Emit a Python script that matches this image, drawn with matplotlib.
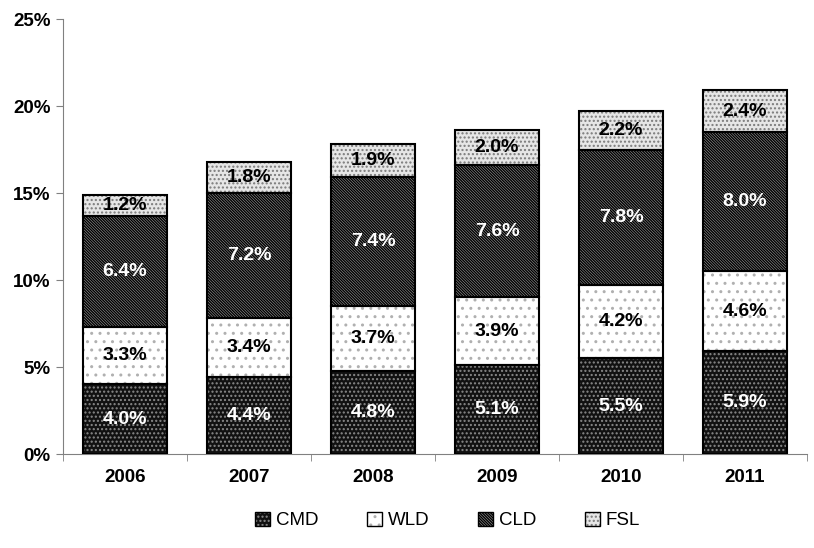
import numpy as np
import matplotlib
matplotlib.use("Agg")
import matplotlib.pyplot as plt
from matplotlib.patches import Patch
from matplotlib.ticker import FixedLocator

plt.rcParams['font.family'] = ['Liberation Sans', 'DejaVu Sans']
plt.rcParams['hatch.linewidth'] = 1.0

years = ['2006', '2007', '2008', '2009', '2010', '2011']
cmd = [4.0, 4.4, 4.8, 5.1, 5.5, 5.9]
wld = [3.3, 3.4, 3.7, 3.9, 4.2, 4.6]
cld = [6.4, 7.2, 7.4, 7.6, 7.8, 8.0]
fsl = [1.2, 1.8, 1.9, 2.0, 2.2, 2.4]

# name, values, face, hatch colour, hatch, label colour
series = [
    ('CMD', cmd, '#111111', '#8a8a8a', '....', 'white'),
    ('WLD', wld, '#ffffff', '#b0b0b0', '..', 'black'),
    ('CLD', cld, '#a0a0a0', '#000000', '\\' * 12, 'white'),
    ('FSL', fsl, '#e6e6e6', '#7a7a7a', '....', 'black'),
]

fig = plt.figure(figsize=(8.14, 5.48), dpi=100)
ax = fig.add_axes([0.0774, 0.1715, 0.914, 0.7935])

x = np.arange(len(years))
width = 0.67
bottom = np.zeros(len(years))
handles, labels = [], []
for name, vals, face, hcol, hatch, tcol in series:
    vals = np.array(vals)
    ax.bar(x, vals, width, bottom=bottom, color=face, edgecolor=hcol,
           hatch=hatch, linewidth=0, zorder=2)
    ax.bar(x, vals, width, bottom=bottom, fill=False, edgecolor='black',
           linewidth=1.5, zorder=3)
    for xi, b, v in zip(x, bottom, vals):
        ax.text(xi, b + v / 2, f'{v:.1f}%', ha='center', va='center',
                color=tcol, fontsize=14, fontweight='bold', zorder=4)
    bottom += vals
    handles.append((Patch(facecolor=face, edgecolor=hcol, hatch=hatch, linewidth=0),
                    Patch(fill=False, edgecolor='black', linewidth=1.0)))
    labels.append(name)

ax.set_xlim(-0.5, len(years) - 0.5)
ax.set_ylim(0, 25)
ax.set_yticks(np.arange(0, 26, 5))
ax.set_yticklabels([f'{v}%' for v in range(0, 26, 5)], fontsize=13.5, fontweight='bold')
ax.set_xticks(x)
ax.set_xticklabels(years, fontsize=13.5, fontweight='bold')
ax.tick_params(axis='x', length=0, pad=11)
ax.xaxis.set_minor_locator(FixedLocator(np.arange(-0.5, len(years), 1.0)))
ax.tick_params(axis='x', which='minor', length=5, color='#808080')
ax.tick_params(axis='y', length=5, color='#808080', pad=4)

for s in ['top', 'right']:
    ax.spines[s].set_visible(False)
for s in ['left', 'bottom']:
    ax.spines[s].set_color('#808080')

fig.legend(handles, labels, loc='center', bbox_to_anchor=(0.55, 0.05),
           ncol=4, frameon=False, fontsize=13.5, handlelength=0.8,
           handleheight=0.8, handletextpad=0.3, columnspacing=2.6)

fig.savefig('out.png', dpi=100)
